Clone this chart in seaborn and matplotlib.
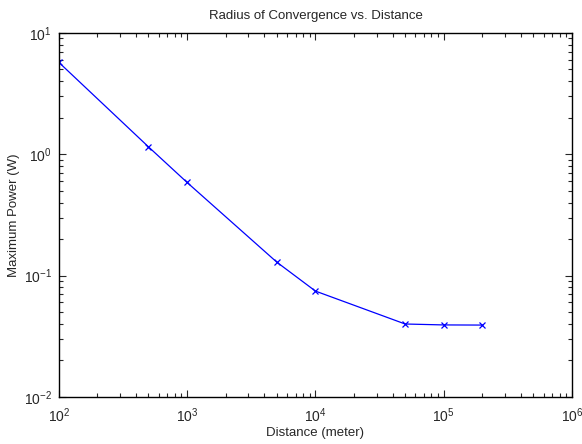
import numpy as np
import pandas as pd
import matplotlib
matplotlib.use("Agg")
import matplotlib.pyplot as plt
import seaborn as sns

# values
distance = [100, 500, 1000, 5000, 10000, 50000, 100000, 200000]
max_power = [5.72, 1.15, 0.585, 0.129, 0.0745, 0.0399, 0.0392, 0.0391]

df = pd.DataFrame({"Distance": distance, "Power": max_power})

sns.set_style("ticks")
plt.rcParams["font.family"] = ["Liberation Sans", "DejaVu Sans"]
plt.rcParams["xtick.direction"] = "in"
plt.rcParams["ytick.direction"] = "in"

fig = plt.figure(figsize=(5.82, 4.44), dpi=100)
ax = fig.add_axes([0.101, 0.106, 0.882, 0.82])

sns.lineplot(data=df, x="Distance", y="Power", ax=ax, color="#0000ff",
             linewidth=0.9, marker="x", markersize=4.5, markeredgewidth=0.9,
             markeredgecolor="#0000ff")

ax.set_xscale("log")
ax.set_yscale("log")
ax.set_xlim(1e2, 1e6)
ax.set_ylim(1e-2, 1e1)

ax.set_title("Radius of Convergence vs. Distance", fontsize=9.5, pad=10)
ax.set_xlabel("Distance (meter)", fontsize=9.5, labelpad=1)
ax.set_ylabel("Maximum Power (W)", fontsize=9.5, labelpad=3)

ax.tick_params(which="both", top=True, right=True, labelsize=10, width=0.8)
ax.tick_params(which="major", length=5)
ax.tick_params(which="minor", length=3)
ax.tick_params(axis="x", which="major", pad=7)
ax.tick_params(axis="y", which="major", pad=5)
for s in ax.spines.values():
    s.set_linewidth(1.0)
    s.set_color("black")

fig.savefig("out.png", dpi=100)
